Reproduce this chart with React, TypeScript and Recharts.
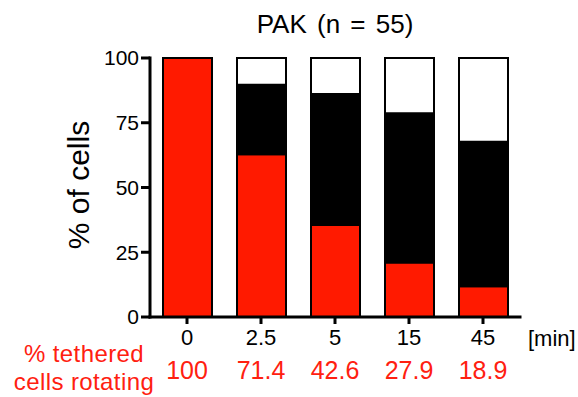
import { Bar, BarChart, XAxis, YAxis } from "recharts";

const categories = ["0", "2.5", "5", "15", "45"];
const rotatingValues = [100, 62.8, 35.5, 21.0, 11.9];
const stoppedValues = [0, 26.9, 50.6, 57.7, 55.8];
const detachedValues = [0, 10.3, 13.9, 21.3, 32.3];
const rotatingPct = ["100", "71.4", "42.6", "27.9", "18.9"];
const yTicks = [0, 25, 50, 75, 100];

const FONT = "'Liberation Sans', Arial, Helvetica, sans-serif";
const RED = "#ff1a00";
const TEXT_RED = "#ff2010";

const data = categories.map((t, i) => ({
  t,
  pct: rotatingPct[i],
  rotating: rotatingValues[i],
  stopped: stoppedValues[i],
  detached: detachedValues[i],
}));

const axisLine = { stroke: "#000", strokeWidth: 3, strokeLinecap: "square" as const };
const tickLine = { stroke: "#000", strokeWidth: 3 };

function PctTick(props: any) {
  const { x, y, payload } = props;
  return (
    <text x={x} y={y + 32} textAnchor="middle" fill={TEXT_RED} fontSize={25} fontFamily={FONT}>
      {payload.value}
    </text>
  );
}

function MinLabel(props: any) {
  const vb = props.viewBox || { x: 150, y: 317, width: 370, height: 30 };
  return (
    <text x={vb.x + vb.width + 8} y={vb.y + 29} fill="#000" fontSize={22} fontFamily={FONT}>
      [min]
    </text>
  );
}

// two separate lines so they don't collide
function RotatingLabel() {
  return (
    <g fill={TEXT_RED} fontSize={24} fontFamily={FONT} letterSpacing={0.4}>
      <text x={84} y={361.5} textAnchor="middle">% tethered</text>
      <text x={84} y={389.5} textAnchor="middle">cells rotating</text>
    </g>
  );
}

function YTitle() {
  return (
    <text
      x={89}
      y={185}
      transform="rotate(-90, 89, 185)"
      textAnchor="middle"
      fill="#000"
      fontSize={30}
      fontFamily={FONT}
    >
      % of cells
    </text>
  );
}

export default function App() {
  return (
    <div style={{ position: "absolute", left: 0, top: 0, width: 578, height: 397, background: "#fff" }}>
      <div
        style={{
          position: "absolute",
          left: 150,
          width: 370,
          top: 11,
          textAlign: "center",
          fontFamily: FONT,
          fontSize: 26,
          lineHeight: "26px",
          wordSpacing: 3,
          color: "#000",
        }}
      >
        PAK (n = 55)
      </div>
      <BarChart
        width={578}
        height={397}
        data={data}
        margin={{ top: 58, right: 58, bottom: 0, left: 0 }}
        barSize={49}
      >
        <XAxis
          dataKey="t"
          height={30}
          axisLine={axisLine}
          tickLine={tickLine}
          tickSize={7}
          tickMargin={5}
          tick={{ fill: "#000", fontSize: 22, fontFamily: FONT }}
          label={MinLabel}
        />
        <XAxis
          xAxisId="pct"
          dataKey="pct"
          height={50}
          axisLine={false}
          tickLine={false}
          tickSize={0}
          tickMargin={0}
          tick={PctTick}
          label={RotatingLabel}
        />
        <YAxis
          width={150}
          domain={[0, 100]}
          ticks={yTicks}
          interval={0}
          axisLine={axisLine}
          tickLine={tickLine}
          tickSize={9}
          tickMargin={2}
          tick={{ fill: "#000", fontSize: 21, fontFamily: FONT }}
          label={YTitle}
        />
        <Bar dataKey="rotating" stackId="a" fill={RED} stroke="#000" strokeWidth={2} isAnimationActive={false} />
        <Bar dataKey="stopped" stackId="a" fill="#000" stroke="#000" strokeWidth={2} isAnimationActive={false} />
        <Bar dataKey="detached" stackId="a" fill="#fff" stroke="#000" strokeWidth={2} isAnimationActive={false} />
      </BarChart>
    </div>
  );
}
